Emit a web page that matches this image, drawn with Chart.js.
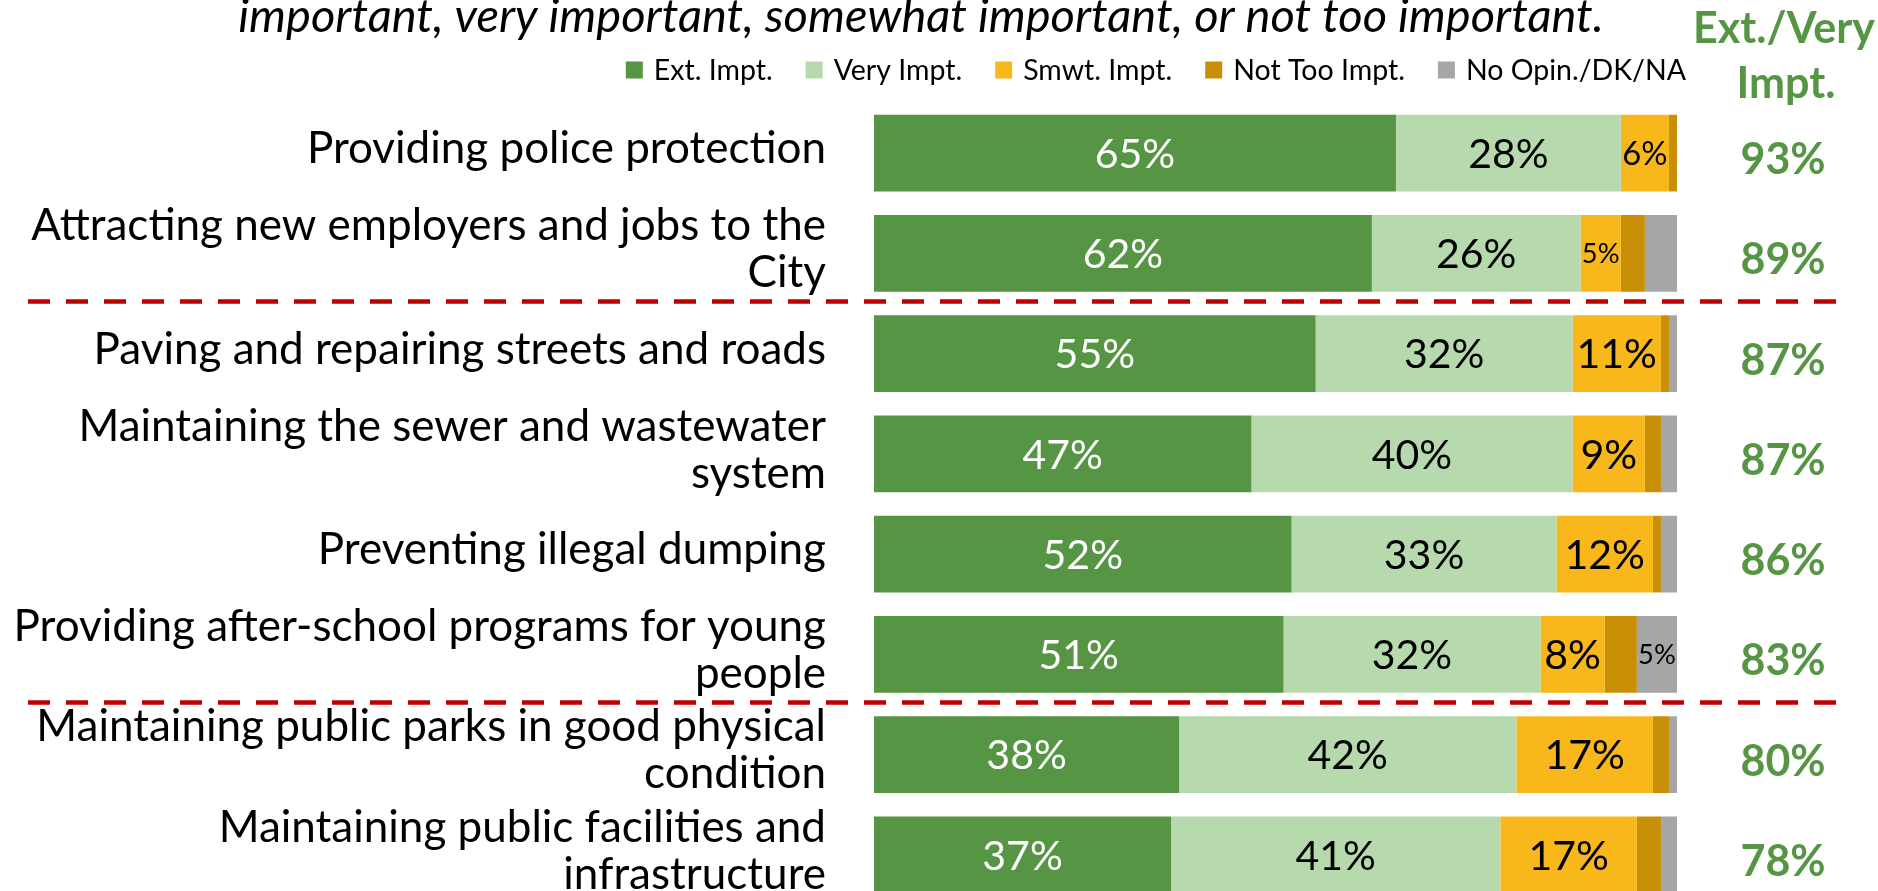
<!DOCTYPE html>
<html>
<head>
<meta charset="utf-8">
<script src="https://cdn.jsdelivr.net/npm/chart.js@4.4.1/dist/chart.umd.min.js"></script>
<style>
  html, body { margin: 0; padding: 0; background: #fff; overflow: hidden; }
  #wrap { width: 1878px; height: 906px; }
</style>
</head>
<body>
<div id="wrap"><canvas id="c" width="1878" height="906"></canvas></div>
<script>
// Services, in the order shown from top to bottom
const categories = [
  'Providing police protection',
  ['Attracting new employers and jobs to the', 'City'],
  'Paving and repairing streets and roads',
  ['Maintaining the sewer and wastewater', 'system'],
  'Preventing illegal dumping',
  ['Providing after-school programs for young', 'people'],
  ['Maintaining public parks in good physical', 'condition'],
  ['Maintaining public facilities and', 'infrastructure']
];

// Share of respondents (%) for each rating
const extImpt    = [65, 62, 55, 47, 52, 51, 38, 37];
const veryImpt   = [28, 26, 32, 40, 33, 32, 42, 41];
const smwtImpt   = [6, 5, 11, 9, 12, 8, 17, 17];
const notTooImpt = [1, 3, 1, 2, 1, 4, 2, 3];
const noOpinion  = [0, 4, 1, 2, 2, 5, 1, 2];

// Combined "extremely / very important" share, as reported
const extVeryTotal = [93, 89, 87, 87, 86, 83, 80, 78];

// Group dividers drawn after these rows
const dividersAfter = [1, 5];

const seriesNames = ['Ext. Impt.', 'Very Impt.', 'Smwt. Impt.', 'Not Too Impt.', 'No Opin./DK/NA'];
const titleLine = 'important, very important, somewhat important, or not too important.';
const totalHeader = ['Ext./Very', 'Impt.'];

const FONT = 'Lato, "Open Sans", sans-serif';
const GREEN = '#559544';
const colors = ['#559544', '#B7D9AE', '#F8B81C', '#C88F07', '#A6A6A6'];
// in-bar value labels: text colour and the smallest value that gets a label
const valueLabelStyle = [
  { color: '#ffffff', min: 1 },
  { color: '#000000', min: 1 },
  { color: '#000000', min: 1 },
  null,
  { color: '#000000', min: 5 }
];

const overlay = {
  id: 'overlay',
  afterDatasetsDraw(chart) {
    const ctx = chart.ctx;
    ctx.save();
    ctx.textAlign = 'center';
    ctx.textBaseline = 'alphabetic';
    chart.data.datasets.forEach((ds, di) => {
      const st = valueLabelStyle[di];
      if (!st) return;
      chart.getDatasetMeta(di).data.forEach((bar, i) => {
        const v = ds.data[i];
        if (v < st.min) return;
        const w = Math.abs(bar.x - bar.base);
        const text = v + '%';
        let size = 41;
        ctx.font = size + 'px ' + FONT;
        const tw = ctx.measureText(text).width;
        if (tw > w * 0.94) size = size * w * 0.94 / tw;
        ctx.font = size + 'px ' + FONT;
        ctx.fillStyle = st.color;
        ctx.fillText(text, (bar.x + bar.base) / 2, bar.y + size * 0.36);
      });
    });

    // dashed group dividers
    const ys = chart.scales.y;
    ctx.strokeStyle = '#C00000';
    ctx.lineWidth = 4.5;
    ctx.setLineDash([22, 16]);
    dividersAfter.forEach(idx => {
      const y = ys.getPixelForValue(idx + 0.5) - 2;
      ctx.beginPath();
      ctx.moveTo(28, y);
      ctx.lineTo(1842, y);
      ctx.stroke();
    });
    ctx.setLineDash([]);

    // combined totals column
    ctx.fillStyle = GREEN;
    ctx.font = 'bold 43px ' + FONT;
    ctx.textAlign = 'center';
    extVeryTotal.forEach((t, i) => {
      const y = ys.getPixelForValue(i);
      ctx.fillText(t + '%', 1783, y + 21);
    });
    ctx.fillText(totalHeader[0], 1784, 43);
    ctx.fillText(totalHeader[1], 1786, 98);

    // subtitle line
    ctx.fillStyle = '#000';
    ctx.font = 'italic 47px ' + FONT;
    ctx.fillText(titleLine, 921, 32);

    // legend, right-aligned above the bars
    ctx.font = '28.5px ' + FONT;
    ctx.textAlign = 'left';
    ctx.textBaseline = 'middle';
    const box = 17, gapText = 11, gapItem = 33, legendRight = 1686, legendY = 70;
    const widths = chart.data.datasets.map(d => ctx.measureText(d.label).width);
    let total = 0;
    widths.forEach((w, i) => { total += box + gapText + w + (i < widths.length - 1 ? gapItem : 0); });
    let x = legendRight - total;
    chart.data.datasets.forEach((d, i) => {
      ctx.fillStyle = d.backgroundColor;
      ctx.fillRect(x, legendY - box / 2, box, box);
      x += box + gapText;
      ctx.fillStyle = '#000';
      ctx.fillText(d.label, x, legendY + 1);
      x += widths[i] + gapItem;
    });
    ctx.restore();
  }
};

const seriesData = [extImpt, veryImpt, smwtImpt, notTooImpt, noOpinion];

new Chart(document.getElementById('c'), {
  type: 'bar',
  data: {
    labels: categories,
    datasets: seriesData.map((d, i) => ({
      label: seriesNames[i],
      data: d,
      backgroundColor: colors[i],
      borderWidth: 0,
      categoryPercentage: 1,
      barPercentage: 0.765
    }))
  },
  options: {
    indexAxis: 'y',
    responsive: false,
    animation: false,
    devicePixelRatio: 1,
    layout: { padding: { top: 103, bottom: 1, left: 0, right: 201 } },
    plugins: {
      legend: { display: false },
      tooltip: { enabled: false }
    },
    scales: {
      x: { stacked: true, min: 0, max: 100, display: false },
      y: {
        stacked: true,
        grid: { display: false, drawTicks: false },
        border: { display: false },
        ticks: {
          autoSkip: false,
          color: '#000',
          padding: 48,
          labelOffset: -4,
          font: { family: FONT, size: 44, lineHeight: '47px' }
        },
        afterFit(scale) {
          scale.width = 874;
          scale.paddingTop = 0;
          scale.paddingBottom = 0;
        }
      }
    }
  },
  plugins: [overlay]
});
</script>
</body>
</html>
